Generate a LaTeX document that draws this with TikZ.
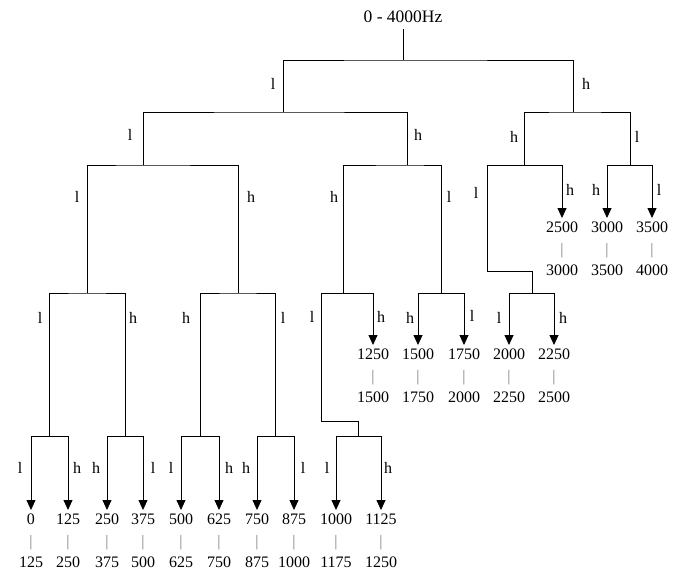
\documentclass[tikz,border=0pt]{standalone}
\usepackage{fontspec}
\setmainfont{Liberation Serif}
\usetikzlibrary{arrows.meta}

\tikzset{
  br/.style={line width=0.8pt},
  arr/.style={line width=0.8pt,-{Triangle[width=9pt,length=10pt]}},
  lbl/.style={font=\fontsize{16}{16}\selectfont,inner sep=0pt},
  leaf/.style={align=center,font=\fontsize{16}{21.5}\selectfont,
    inner sep=0pt,outer ysep=4pt,anchor=north},
}
\newcommand{\fband}[2]{#1\\{\color{gray}|}\\#2}

\begin{document}
\begin{tikzpicture}[x=1pt,y=-1pt]
    \useasboundingbox (0,0) rectangle (685,574);

    % Whole band
    \node[font=\fontsize{17.5}{17.5}\selectfont,inner sep=6pt] (root) at (403,17) {0 - 4000Hz};
    \coordinate (j) at (403,60);
    \draw[br] (root) -- (j);

    % First split
    \coordinate (jL) at (283,112);
    \coordinate (jR) at (573,112);
    \draw[br] (jL) |- (j) -| (jR);

    % Second split
    \coordinate (jLL) at (143,165);
    \coordinate (jLR) at (407,165);
    \coordinate (jRL) at (524,165);
    \coordinate (jRR) at (630,165);
    \draw[br] (jLL) |- (jL) -| (jLR);
    \draw[br] (jRL) |- (jR) -| (jRR);

    % Third split
    \coordinate (jLLL) at (87,293);
    \coordinate (jLLR) at (238,293);
    \coordinate (jLRL) at (343,293);
    \coordinate (jLRR) at (441,293);
    \coordinate (kRL) at (487,271);
    \coordinate (jRLL) at (532,293);
    \draw[br] (jLLL) |- (jLL) -| (jLLR);
    \draw[br] (jLRL) |- (jLR) -| (jLRR);
    \draw[br] (jRLL) |- (kRL) |- (jRL);

    % Fourth split
    \coordinate (jLLLL) at (49,436);
    \coordinate (jLLLR) at (125,436);
    \coordinate (jLLRL) at (200,436);
    \coordinate (jLLRR) at (275,436);
    \coordinate (kLRL) at (321,421);
    \coordinate (jLRLL) at (358,436);
    \draw[br] (jLLLL) |- (jLLL) -| (jLLLR);
    \draw[br] (jLLRL) |- (jLLR) -| (jLLRR);
    \draw[br] (jLRLL) |- (kLRL) |- (jLRL);

    % Bands 2500 - 4000
    \node[leaf] (f2500) at (562,218) {\fband{2500}{3000}};
    \node[leaf] (f3000) at (607,218) {\fband{3000}{3500}};
    \node[leaf] (f3500) at (652,218) {\fband{3500}{4000}};
    \draw[arr] (jRL) -| (f2500);
    \draw[arr] (jRR) -| (f3000);
    \draw[arr] (jRR) -| (f3500);

    % Bands 1250 - 2500
    \node[leaf] (f1250) at (373,345) {\fband{1250}{1500}};
    \node[leaf] (f1500) at (418,345) {\fband{1500}{1750}};
    \node[leaf] (f1750) at (464,345) {\fband{1750}{2000}};
    \node[leaf] (f2000) at (509,345) {\fband{2000}{2250}};
    \node[leaf] (f2250) at (554,345) {\fband{2250}{2500}};
    \draw[arr] (jLRL) -| (f1250);
    \draw[arr] (jLRR) -| (f1500);
    \draw[arr] (jLRR) -| (f1750);
    \draw[arr] (jRLL) -| (f2000);
    \draw[arr] (jRLL) -| (f2250);

    % Bands 0 - 1250
    \node[leaf] (f0) at (31,510) {\fband{0}{125}};
    \node[leaf] (f125) at (68,510) {\fband{125}{250}};
    \node[leaf] (f250) at (107,510) {\fband{250}{375}};
    \node[leaf] (f375) at (143,510) {\fband{375}{500}};
    \node[leaf] (f500) at (181,510) {\fband{500}{625}};
    \node[leaf] (f625) at (219,510) {\fband{625}{750}};
    \node[leaf] (f750) at (257,510) {\fband{750}{875}};
    \node[leaf] (f875) at (294,510) {\fband{875}{1000}};
    \node[leaf] (f1000) at (336,510) {\fband{1000}{1175}};
    \node[leaf] (f1125) at (381,510) {\fband{1125}{1250}};
    \draw[arr] (jLLLL) -| (f0);
    \draw[arr] (jLLLL) -| (f125);
    \draw[arr] (jLLLR) -| (f250);
    \draw[arr] (jLLLR) -| (f375);
    \draw[arr] (jLLRL) -| (f500);
    \draw[arr] (jLLRL) -| (f625);
    \draw[arr] (jLLRR) -| (f750);
    \draw[arr] (jLLRR) -| (f875);
    \draw[arr] (jLRLL) -| (f1000);
    \draw[arr] (jLRLL) -| (f1125);

    % Branch labels
    \foreach \x/\y/\t [count=\i] in {273/84/l, 586/84/h,
        130/135/l, 418/135/h, 514/137/h, 637/137/l,
        77/197/l, 251/197/h, 334/197/h, 449/197/l, 476/193/l, 570/190/h, 596/190/h, 659/190/l,
        40/318/l, 133/318/h, 186/318/h, 283/318/l, 312/317/l, 381/317/h, 410/318/h, 472/316/l, 499/318/l, 563/318/h,
        20/468/l, 77/468/h, 96/468/h, 153/468/l, 171/468/l, 229/468/h, 246/468/h, 303/468/l, 327/468/l, 388/468/h}
        \node[lbl] (lb\i) at (\x,\y) {\t};

\end{tikzpicture}
\end{document}
